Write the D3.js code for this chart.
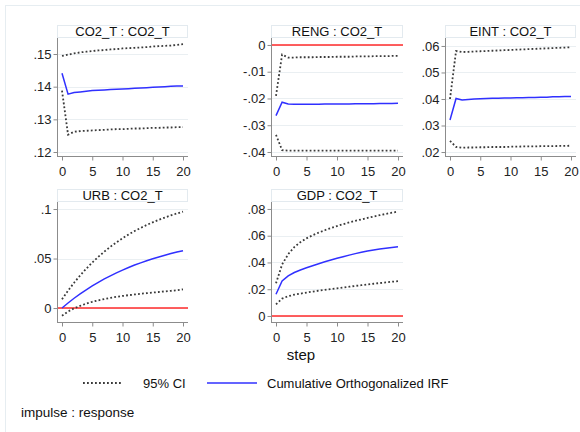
<!DOCTYPE html>
<html><head><meta charset="utf-8">
<script src="https://cdn.jsdelivr.net/npm/d3@7"></script>
<style>
html,body{margin:0;padding:0;background:#fff;}
svg{display:block;font-family:"Liberation Sans",Arial,sans-serif;}
</style></head>
<body><svg id="c" width="580" height="432"></svg>
<script>
// ---------- data ----------
const steps = [0,1,2,3,4,5,6,7,8,9,10,11,12,13,14,15,16,17,18,19,20];
const panelTitles = ["CO2_T : CO2_T","RENG : CO2_T","EINT : CO2_T","URB : CO2_T","GDP : CO2_T"];

const irfCO2 = [.1441,.1377,.1382,.1384,.1386,.1388,.1389,.1390,.1391,.1392,.1393,.1394,.1395,.1396,.1397,.1398,.1399,.1400,.1401,.1402,.1402];
const hiCO2  = [.1494,.1498,.1502,.1505,.1507,.1509,.1511,.1512,.1514,.1515,.1517,.1518,.1519,.1520,.1521,.1523,.1524,.1525,.1526,.1528,.1530];
const loCO2  = [.1388,.1253,.1262,.1264,.1265,.1266,.1267,.1268,.1269,.1270,.1270,.1271,.1272,.1272,.1273,.1274,.1274,.1275,.1275,.1276,.1276];

const irfRENG = [-.0264,-.0214,-.0221,-.0222,-.0222,-.0222,-.0222,-.0222,-.0221,-.0221,-.0221,-.0221,-.0221,-.0220,-.0220,-.0220,-.0220,-.0219,-.0219,-.0219,-.0218];
const hiRENG  = [-.0190,-.0036,-.0047,-.0047,-.0046,-.0046,-.0046,-.0045,-.0045,-.0045,-.0044,-.0044,-.0044,-.0043,-.0043,-.0043,-.0042,-.0042,-.0042,-.0041,-.0041];
const loRENG  = [-.0336,-.0393,-.0395,-.0395,-.0395,-.0395,-.0395,-.0395,-.0395,-.0395,-.0395,-.0395,-.0395,-.0395,-.0395,-.0395,-.0395,-.0395,-.0395,-.0395,-.0395];

const irfEINT = [.0321,.0402,.0396,.0398,.0400,.0401,.0402,.0403,.0403,.0404,.0404,.0405,.0405,.0406,.0406,.0407,.0407,.0408,.0408,.0409,.0409];
const hiEINT  = [.0400,.0581,.0577,.0578,.0579,.0580,.0581,.0582,.0583,.0584,.0585,.0586,.0587,.0588,.0589,.0590,.0591,.0592,.0593,.0594,.0595];
const loEINT  = [.0242,.0219,.0216,.0217,.0217,.0218,.0218,.0219,.0219,.0219,.0220,.0220,.0221,.0221,.0221,.0222,.0222,.0222,.0223,.0223,.0224];

const irfURB = [0,.0051,.0099,.0143,.0184,.0223,.0260,.0294,.0325,.0355,.0383,.0409,.0434,.0456,.0478,.0497,.0516,.0533,.0550,.0565,.0579];
const hiURB  = [.0088,.0175,.0256,.0329,.0397,.0460,.0517,.0570,.0619,.0664,.0705,.0743,.0778,.0809,.0839,.0866,.0891,.0914,.0936,.0955,.0973];
const loURB  = [-.0078,-.0035,-.0003,.0022,.0044,.0063,.0078,.0091,.0103,.0113,.0122,.0130,.0137,.0144,.0150,.0156,.0162,.0168,.0174,.0180,.0189];

const irfGDP = [.0162,.0262,.0300,.0325,.0344,.0360,.0376,.0391,.0405,.0418,.0431,.0443,.0455,.0466,.0476,.0485,.0493,.0500,.0506,.0512,.0518];
const hiGDP  = [.0244,.0385,.0462,.0515,.0552,.0580,.0603,.0623,.0641,.0657,.0672,.0686,.0699,.0711,.0722,.0733,.0743,.0753,.0763,.0772,.0780];
const loGDP  = [.0087,.0130,.0148,.0159,.0167,.0175,.0182,.0189,.0195,.0201,.0207,.0213,.0219,.0225,.0230,.0236,.0241,.0246,.0251,.0256,.0260];

const xTicks = [0,5,10,15,20];
const yTicksCO2 = [.12,.13,.14,.15];      const yLabCO2 = [".12",".13",".14",".15"];
const yTicksRENG = [-.04,-.03,-.02,-.01,0]; const yLabRENG = ["-.04","-.03","-.02","-.01","0"];
const yTicksEINT = [.02,.03,.04,.05,.06]; const yLabEINT = [".02",".03",".04",".05",".06"];
const yTicksURB = [0,.05,.1];             const yLabURB = ["0",".05",".1"];
const yTicksGDP = [0,.02,.04,.06,.08];    const yLabGDP = ["0",".02",".04",".06",".08"];

const yRangeCO2 = [.11878,.1549];
const yRangeRENG = [-.0415,.0026];
const yRangeEINT = [.0185,.0630];
const yRangeURB = [-.0141,.1071];
const yRangeGDP = [-.0045,.0852];

const legendLabels = ["95% CI","Cumulative Orthogonalized IRF"];
const xAxisTitle = "step";
const noteText = "impulse : response";

// ---------- layout ----------
const svg = d3.select("#c");
const FONT = 13;
svg.append("rect").attr("x",5.5).attr("y",5.5).attr("width",700).attr("height",600)
  .attr("fill","#fff").attr("stroke","#e6edf1").attr("stroke-width",1);

const panels = [
  {title:panelTitles[0], irf:irfCO2, hi:hiCO2, lo:loCO2, ticks:yTicksCO2, labs:yLabCO2, dom:yRangeCO2, x0:57, x1:188, ty:25, y0:38, y1:156, zero:false},
  {title:panelTitles[1], irf:irfRENG, hi:hiRENG, lo:loRENG, ticks:yTicksRENG, labs:yLabRENG, dom:yRangeRENG, x0:271, x1:403, ty:25, y0:38, y1:156, zero:true},
  {title:panelTitles[2], irf:irfEINT, hi:hiEINT, lo:loEINT, ticks:yTicksEINT, labs:yLabEINT, dom:yRangeEINT, x0:445, x1:576, ty:25, y0:38, y1:156, zero:false},
  {title:panelTitles[3], irf:irfURB, hi:hiURB, lo:loURB, ticks:yTicksURB, labs:yLabURB, dom:yRangeURB, x0:57, x1:188, ty:189, y0:202, y1:322, zero:true},
  {title:panelTitles[4], irf:irfGDP, hi:hiGDP, lo:loGDP, ticks:yTicksGDP, labs:yLabGDP, dom:yRangeGDP, x0:271, x1:403, ty:189, y0:202, y1:322, zero:true}
];

const AXC = "#8c8c8c";
const DOT = {stroke:"#3a3a3a", width:1.8, dash:"1.8,2.2"};
const BLUE = "#3030ff";
const RED = "#ff2a2a";

panels.forEach(p => {
  const g = svg.append("g");
  const x = d3.scaleLinear().domain([0,20]).range([p.x0+5, p.x1-5]);
  const y = d3.scaleLinear().domain(p.dom).range([p.y1, p.y0]);

  // title box
  g.append("rect").attr("x",p.x0+0.5).attr("y",p.ty+0.5).attr("width",p.x1-p.x0-1).attr("height",p.y0-p.ty-1)
    .attr("fill","#fff").attr("stroke","#e3eaef");
  g.append("text").attr("x",(p.x0+p.x1)/2).attr("y",p.y0-2.5).attr("text-anchor","middle")
    .attr("font-size",FONT).attr("fill","#111").text(p.title);

  // grid
  g.selectAll(".grid").data(p.ticks).enter().append("line")
    .attr("x1",p.x0).attr("x2",p.x1).attr("y1",d=>Math.round(y(d))+0.5).attr("y2",d=>Math.round(y(d))+0.5)
    .attr("stroke","#eaeff2").attr("stroke-width",1);

  // zero line
  if (p.zero) {
    g.append("line").attr("x1",p.x0).attr("x2",p.x1).attr("y1",y(0)).attr("y2",y(0))
      .attr("stroke",RED).attr("stroke-width",1.6);
  }

  const line = d3.line().x((d,i)=>x(steps[i])).y(d=>y(d));
  [p.hi,p.lo].forEach(s => {
    g.append("path").attr("d",line(s)).attr("fill","none")
      .attr("stroke",DOT.stroke).attr("stroke-width",DOT.width).attr("stroke-dasharray",DOT.dash);
  });
  g.append("path").attr("d",line(p.irf)).attr("fill","none").attr("stroke",BLUE).attr("stroke-width",1.5);

  // y axis
  const ya = g.append("g").attr("transform",`translate(${p.x0+0.5},0)`)
    .call(d3.axisLeft(y).tickValues(p.ticks).tickFormat((d,i)=>p.labs[i]).tickSize(4).tickPadding(2).tickSizeOuter(0));
  ya.select(".domain").attr("d",`M0,${p.y0}V${p.y1}`).attr("stroke",AXC);
  ya.selectAll(".tick line").attr("stroke",AXC);
  ya.selectAll("text").attr("font-size",FONT).attr("fill","#222").attr("font-family","Liberation Sans, Arial, sans-serif");

  // x axis
  const xa = g.append("g").attr("transform",`translate(0,${p.y1+0.5})`)
    .call(d3.axisBottom(x).tickValues(xTicks).tickFormat(d3.format("d")).tickSize(4).tickPadding(6).tickSizeOuter(0));
  xa.select(".domain").attr("d",`M${p.x0},0H${p.x1}`).attr("stroke",AXC);
  xa.selectAll(".tick line").attr("stroke",AXC);
  xa.selectAll("text").attr("font-size",FONT).attr("fill","#222").attr("font-family","Liberation Sans, Arial, sans-serif");
});

// x axis title
svg.append("text").attr("x",301).attr("y",360).attr("text-anchor","middle")
  .attr("font-size",15).attr("fill","#111").text(xAxisTitle);

// legend
const ly = 383;
svg.append("line").attr("x1",83).attr("x2",123).attr("y1",ly).attr("y2",ly)
  .attr("stroke",DOT.stroke).attr("stroke-width",DOT.width).attr("stroke-dasharray",DOT.dash);
svg.append("text").attr("x",143).attr("y",ly+4.5).attr("font-size",FONT).attr("fill","#111").text(legendLabels[0]);
svg.append("line").attr("x1",207).attr("x2",257).attr("y1",ly).attr("y2",ly)
  .attr("stroke",BLUE).attr("stroke-width",1.5);
svg.append("text").attr("x",267).attr("y",ly+4.5).attr("font-size",FONT).attr("fill","#111").text(legendLabels[1]);

// note
svg.append("text").attr("x",21).attr("y",416.5).attr("font-size",13.5).attr("fill","#111").text(noteText);
</script>
</body></html>
